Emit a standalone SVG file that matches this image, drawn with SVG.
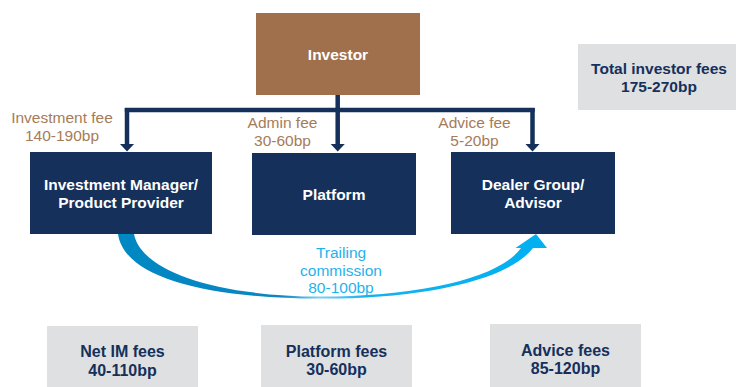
<svg xmlns="http://www.w3.org/2000/svg" width="739" height="387" viewBox="0 0 739 387">
  <style>
    .navy { fill: #15305B; }
    .brownbox { fill: #A06F4C; }
    .grey { fill: #DFE0E2; }
    text { font-family: "Liberation Sans", Arial, sans-serif; text-anchor: middle; }
    .w { fill: #FFFFFF; font-weight: bold; font-size: 15.5px; }
    .sum { fill: #15305B; font-weight: bold; font-size: 15.5px; }
    .sumb { fill: #15305B; font-weight: bold; font-size: 16px; }
    .fee { fill: #A67B57; font-size: 15.5px; }
    .trail { fill: #1FB3EC; font-size: 15.5px; }
    .flow { fill: none; stroke: #15305B; stroke-width: 4.5; }
  </style>
  <defs>
    <marker id="head" markerUnits="userSpaceOnUse" viewBox="0 0 8 15" markerWidth="8" markerHeight="15" refX="0.5" refY="7.5" orient="auto">
      <path d="M0,0 L8,7.5 L0,15 Z" fill="#15305B"/>
    </marker>
    <linearGradient id="swoosh" gradientUnits="userSpaceOnUse" x1="118" y1="0" x2="547" y2="0">
      <stop offset="0" stop-color="#0088C2"/>
      <stop offset="0.38" stop-color="#0A86C2"/>
      <stop offset="0.47" stop-color="#7FD0F2"/>
      <stop offset="0.58" stop-color="#16B1EE"/>
      <stop offset="1" stop-color="#00B0F0"/>
    </linearGradient>
  </defs>

  <!-- fee flows from the investor -->
  <g id="connectors">
    <path class="flow" d="M124.8,110 H534.7"/>
    <path class="flow" d="M127,108 V144" marker-end="url(#head)"/>
    <path class="flow" d="M337.7,95 V144" stroke-width="6" marker-end="url(#head)"/>
    <path class="flow" d="M532.5,108 V144" marker-end="url(#head)"/>
    <!-- trailing commission swoosh -->
    <path fill="url(#swoosh)" d="M118,234 C124,276 200,298 320,298.6 C420,299 508,281 533,248 L547,248 L536,234 L515.5,248 L521,248 C500,278 420,296.5 320,296.6 C212,296 141,270 134,234 Z"/>
  </g>

  <g id="investor">
    <rect class="brownbox" x="256" y="13" width="164" height="82"/>
    <text class="w" x="338" y="60">Investor</text>
  </g>

  <g id="total-fees">
    <rect class="grey" x="578" y="44" width="158" height="66"/>
    <text class="sum" x="659" y="74">Total investor fees</text>
    <text class="sum" x="659" y="92">175-270bp</text>
  </g>

  <g id="fee-labels">
    <text class="fee" x="62" y="122.5">Investment fee</text>
    <text class="fee" x="62" y="140.5">140-190bp</text>
    <text class="fee" x="282.5" y="128">Admin fee</text>
    <text class="fee" x="282.5" y="146">30-60bp</text>
    <text class="fee" x="474.5" y="128">Advice fee</text>
    <text class="fee" x="474.5" y="146">5-20bp</text>
  </g>

  <g id="investment-manager">
    <rect class="navy" x="30" y="152" width="182" height="82"/>
    <text class="w" x="121" y="190">Investment Manager/</text>
    <text class="w" x="121" y="208.3">Product Provider</text>
  </g>

  <g id="platform">
    <rect class="navy" x="252" y="153" width="164" height="82"/>
    <text class="w" x="334" y="200">Platform</text>
  </g>

  <g id="dealer-group">
    <rect class="navy" x="451" y="152" width="164" height="82"/>
    <text class="w" x="533" y="190">Dealer Group/</text>
    <text class="w" x="533" y="208">Advisor</text>
  </g>

  <g id="trailing-commission">
    <text class="trail" x="341" y="258">Trailing</text>
    <text class="trail" x="341" y="275.5">commission</text>
    <text class="trail" x="341" y="293">80-100bp</text>
  </g>

  <g id="net-im-fees">
    <rect class="grey" x="47" y="326" width="151" height="61"/>
    <text class="sumb" x="122.5" y="356.5">Net IM fees</text>
    <text class="sumb" x="122.5" y="375.5">40-110bp</text>
  </g>

  <g id="platform-fees">
    <rect class="grey" x="261" y="325" width="151" height="62"/>
    <text class="sumb" x="336.5" y="356.5">Platform fees</text>
    <text class="sumb" x="336.5" y="375">30-60bp</text>
  </g>

  <g id="advice-fees">
    <rect class="grey" x="490" y="324" width="151" height="63"/>
    <text class="sumb" x="565.5" y="355.5">Advice fees</text>
    <text class="sumb" x="565.5" y="374">85-120bp</text>
  </g>
</svg>
